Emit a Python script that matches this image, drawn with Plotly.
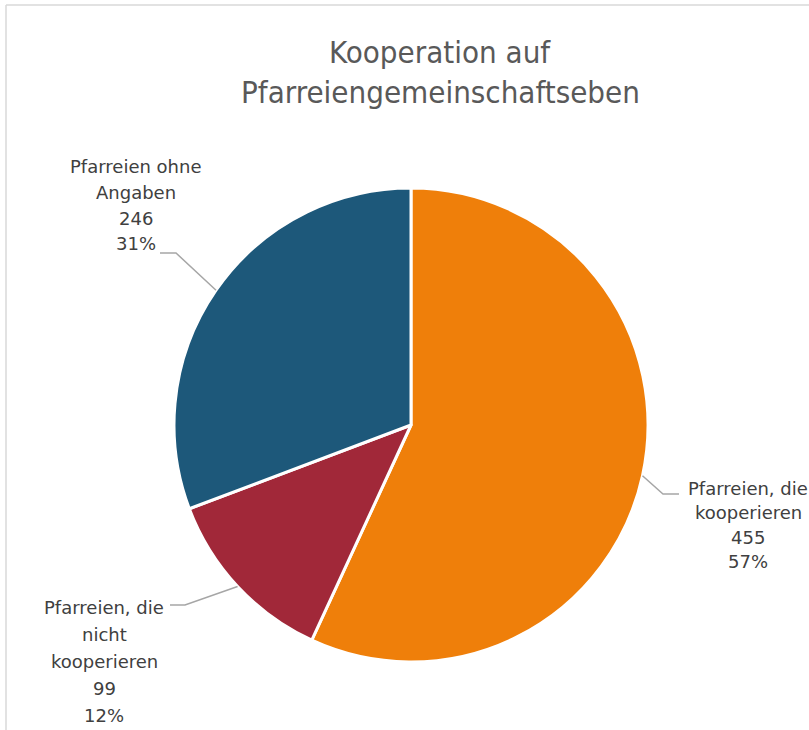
import math
import plotly.graph_objects as go

categories = ["Pfarreien, die kooperieren", "Pfarreien, die nicht kooperieren", "Pfarreien ohne Angaben"]
values = [455, 99, 246]
colors = ["#EF7F0A", "#A12839", "#1D587A"]
label_lines = [
    ["Pfarreien, die", "kooperieren"],
    ["Pfarreien, die", "nicht", "kooperieren"],
    ["Pfarreien ohne", "Angaben"],
]
title_lines = ["Kooperation auf", "Pfarreiengemeinschaftseben"]

W, H = 809, 730
CX, CY, R = 411, 425, 237


def px(x):
    return x / W


def py(y):
    return 1 - y / H


fig = go.Figure(go.Pie(
    labels=categories, values=values, sort=False, direction="clockwise", rotation=0,
    marker=dict(colors=colors, line=dict(color="white", width=3)),
    textinfo="none", hoverinfo="label+value+percent", showlegend=False,
    domain=dict(x=[px(CX - R), px(CX + R)], y=[py(CY + R), py(CY - R)]),
))

total = sum(values)
# label layout: (text center x, first line y, line spacing, elbow x, elbow y, line end x)
label_layout = [
    (748, 488, 24.5, 663, 494, 679),
    (104, 607, 27, 185, 605, 170),
    (136, 166, 26, 176, 253, 160),
]

annotations = []
shapes = []
cum = 0
for i, v in enumerate(values):
    mid = (cum + v / 2) / total * 2 * math.pi
    cum += v
    sx = CX + R * math.sin(mid)
    sy = CY - R * math.cos(mid)
    tx, ty0, sp, ex, ey, lx = label_layout[i]
    pct = f"{round(v / total * 100)}%"
    lines = label_lines[i] + [str(v), pct]
    for j, t in enumerate(lines):
        annotations.append(dict(
            x=px(tx), y=py(ty0 + j * sp), xref="paper", yref="paper",
            text=t, showarrow=False, xanchor="center", yanchor="middle",
            font=dict(family="DejaVu Sans", size=18, color="#404040"),
        ))
    shapes.append(dict(
        type="path", xref="paper", yref="paper",
        path=f"M {px(sx)} {py(sy)} L {px(ex)} {py(ey)} L {px(lx)} {py(ey)}",
        line=dict(color="#A6A6A6", width=1.5),
    ))

for j, t in enumerate(title_lines):
    annotations.append(dict(
        x=px(440), y=py(52 + j * 40), xref="paper", yref="paper",
        text=t, showarrow=False, xanchor="center", yanchor="middle",
        font=dict(family="Liberation Sans Narrow, DejaVu Sans Condensed, sans-serif", size=31, color="#595959"),
    ))

# chart area border (cropped: left and top edges visible)
shapes.append(dict(type="line", xref="paper", yref="paper", x0=px(6), x1=px(6), y0=0, y1=py(5),
                   line=dict(color="#D9D9D9", width=1.5)))
shapes.append(dict(type="line", xref="paper", yref="paper", x0=px(6), x1=1, y0=py(5), y1=py(5),
                   line=dict(color="#D9D9D9", width=1.5)))

fig.update_layout(
    width=W, height=H, margin=dict(l=0, r=0, t=0, b=0),
    paper_bgcolor="white", plot_bgcolor="white",
    annotations=annotations, shapes=shapes,
)
fig.write_html("out.html", config={"displayModeBar": False})

# remove the default page margin so the figure sits at the window's top-left corner
with open("out.html", encoding="utf-8") as f:
    html = f.read()
html = html.replace("<head>", "<head><style>html,body{margin:0;padding:0;overflow:hidden;}</style>", 1)
with open("out.html", "w", encoding="utf-8") as f:
    f.write(html)
